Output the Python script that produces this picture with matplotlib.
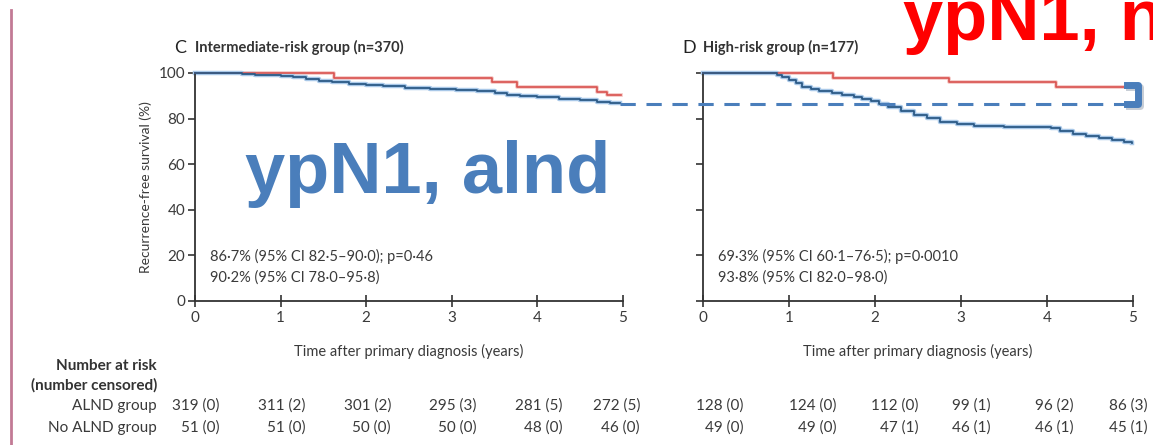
import matplotlib.pyplot as plt
from matplotlib.lines import Line2D
from matplotlib.transforms import blended_transform_factory

# Intermediate-risk group (panel C)
c_alnd_t = [0, 0.55, 0.7, 0.85, 1.0, 1.15, 1.3, 1.45, 1.6, 1.8, 2.0, 2.2, 2.45, 2.75, 3.05, 3.3, 3.5, 3.65, 3.8, 4.0, 4.25, 4.5, 4.7, 4.85, 4.97]
c_alnd_s = [100, 99.6, 99.3, 99.0, 98.6, 98.2, 97.4, 96.6, 96.0, 95.3, 94.6, 94.1, 93.6, 93.2, 92.6, 91.9, 91.2, 90.2, 89.8, 89.4, 88.7, 88.0, 87.4, 86.9, 86.7]
c_no_t = [0, 1.62, 3.47, 3.76, 4.70, 4.81, 4.98]
c_no_s = [100, 98.0, 96.0, 93.9, 91.8, 90.2, 90.2]

# High-risk group (panel D)
d_alnd_t = [0, 0.86, 0.92, 1.0, 1.08, 1.15, 1.25, 1.35, 1.5, 1.62, 1.75, 1.85, 1.95, 2.05, 2.15, 2.3, 2.45,
            2.6, 2.75, 2.95, 3.15, 3.5, 4.05, 4.15, 4.3, 4.45, 4.6, 4.75, 4.9, 4.99]
d_alnd_s = [100, 99.2, 98.4, 97.0, 95.4, 94.0, 93.0, 92.2, 91.4, 90.4, 89.4, 88.5, 87.6, 86.6, 85.2, 83.4, 81.7,
            80.1, 78.5, 77.6, 76.8, 76.4, 75.8, 74.6, 73.4, 72.5, 71.6, 70.8, 69.8, 69.3]
d_no_t = [0, 1.51, 2.86, 4.11, 4.99]
d_no_s = [100, 98.0, 95.9, 93.8, 93.8]

titles = ["Intermediate-risk group (n=370)", "High-risk group (n=177)"]
letters = ["C", "D"]
stats_text = [["86·7% (95% CI 82·5–90·0); p=0·46", "90·2% (95% CI 78·0–95·8)"],
              ["69·3% (95% CI 60·1–76·5); p=0·0010", "93·8% (95% CI 82·0–98·0)"]]

years = [0, 1, 2, 3, 4, 5]
yticks = [0, 20, 40, 60, 80, 100]
risk_alnd = [["319 (0)", "311 (2)", "301 (2)", "295 (3)", "281 (5)", "272 (5)"],
             ["128 (0)", "124 (0)", "112 (0)", "99 (1)", "96 (2)", "86 (3)"]]
risk_no = [["51 (0)", "51 (0)", "50 (0)", "50 (0)", "48 (0)", "46 (0)"],
           ["49 (0)", "49 (0)", "47 (1)", "46 (1)", "46 (1)", "45 (1)"]]
# right edge of the risk-table columns (in years of each panel)
risk_x = [[0.29, 1.29, 2.29, 3.29, 4.29, 5.2],
          [0.47, 1.55, 2.51, 3.35, 4.31, 5.17]]

font = ['Lato', 'DejaVu Sans']
txt = '#3a3a3a'
blue = '#2b5a86'
halo = '#a9c8e8'
red = '#d9534f'
overlay = '#4a7ebb'

fig = plt.figure(figsize=(11.53, 4.45), dpi=100)
W, H = 1153, 445


def fx(px):
    return px / W


def fy(py):
    return 1 - py / H


ax1 = fig.add_axes([fx(195), fy(301), fx(623) - fx(195), fy(73) - fy(301)])
ax2 = fig.add_axes([fx(703), fy(301), fx(1133) - fx(703), fy(73) - fy(301)])

curves = [(c_alnd_t, c_alnd_s, c_no_t, c_no_s), (d_alnd_t, d_alnd_s, d_no_t, d_no_s)]

for i, ax in enumerate([ax1, ax2]):
    at, as_, nt, ns = curves[i]
    ax.step(nt, ns, where='post', color='#f4c4c1', lw=2.6, clip_on=False, zorder=2)
    ax.step(nt, ns, where='post', color=red, lw=1.2, clip_on=False, zorder=3)
    ax.step(at, as_, where='post', color=halo, lw=3.2, clip_on=False, zorder=2)
    ax.step(at, as_, where='post', color=blue, lw=1.3, clip_on=False, zorder=3)
    ax.set_xlim(0, 5)
    ax.set_ylim(0, 100)
    for s in ['top', 'right']:
        ax.spines[s].set_visible(False)
    for s in ['left', 'bottom']:
        ax.spines[s].set_color('#333333')
        ax.spines[s].set_linewidth(1.3)
    ax.set_xticks(years)
    ax.set_yticks(yticks)
    ax.tick_params(axis='x', direction='inout', length=8, width=1.2, colors='#333333', labelsize=11, pad=3)
    ax.tick_params(axis='y', direction='out', length=5, width=1.2, colors='#333333', labelsize=11, pad=2)
    for lab in ax.get_xticklabels() + ax.get_yticklabels():
        lab.set_family(font)
        lab.set_color(txt)
    if i == 1:
        ax.set_yticklabels([])
    ax.set_facecolor('none')
    ax.set_xlabel("Time after primary diagnosis (years)", family=font, fontsize=10.5, color=txt, labelpad=14)
    ax.text(0.18, 19.5, stats_text[i][0], family=font, fontsize=10.5, color=txt, va='center')
    ax.text(0.18, 10.5, stats_text[i][1], family=font, fontsize=10.5, color=txt, va='center')
    ax.text(-0.24, 111, letters[i], family=font, fontsize=13, color='#222222', va='center')
    ax.text(0.0, 111, titles[i], family=font, fontsize=10.5, weight='bold', color='#333333', va='center')
    # risk table: x in years, y in figure fraction
    tr = blended_transform_factory(ax.transData, fig.transFigure)
    for j in range(6):
        ax.text(risk_x[i][j], fy(406), risk_alnd[i][j], transform=tr, ha='right',
                va='center', family=font, fontsize=11, color=txt, clip_on=False)
        ax.text(risk_x[i][j], fy(428), risk_no[i][j], transform=tr, ha='right',
                va='center', family=font, fontsize=11, color=txt, clip_on=False)

ax1.set_ylabel("Recurrence-free survival (%)", family=font, fontsize=10, color=txt, labelpad=5)

fig.text(fx(157), fy(366), "Number at risk", family=font, fontsize=11, weight='bold', color='#333333',
         ha='right', va='center')
fig.text(fx(157), fy(385), "(number censored)", family=font, fontsize=11, weight='bold', color='#333333',
         ha='right', va='center')
fig.text(fx(157), fy(406), "ALND group", family=font, fontsize=11, color=txt, ha='right', va='center')
fig.text(fx(157), fy(428), "No ALND group", family=font, fontsize=11, color=txt, ha='right', va='center')

# overlay annotations
fig.text(fx(245), fy(193), "ypN1, alnd", family='Liberation Sans', weight='bold', fontsize=52,
         color=overlay, va='baseline')
fig.text(fx(903), fy(40), "ypN1, no alnd", family='Liberation Sans', weight='bold', fontsize=52,
         color='#ff0000', va='baseline')

# dashed reference line across to the high-risk panel
ax2.plot([-0.97, 4.95], [86.6, 86.6], color=overlay, lw=2.2,
         dashes=(5, 3.5), clip_on=False, zorder=4)
# bracket
bx = [4.93, 5.06, 5.06, 4.93]
by = [94.6, 94.6, 86.4, 86.4]
ax2.plot([b + 0.02 for b in bx], [b - 0.9 for b in by], color='#b0b8c4', lw=5, clip_on=False, zorder=4,
         solid_joinstyle='round', alpha=0.7)
ax2.plot(bx, by, color=overlay, lw=5, clip_on=False, zorder=5, solid_joinstyle='round')

# pink margin rule
fig.add_artist(Line2D([fx(11), fx(11)], [fy(10), 0], color='#c27a95', lw=2))

fig.savefig('out.png', dpi=100)
